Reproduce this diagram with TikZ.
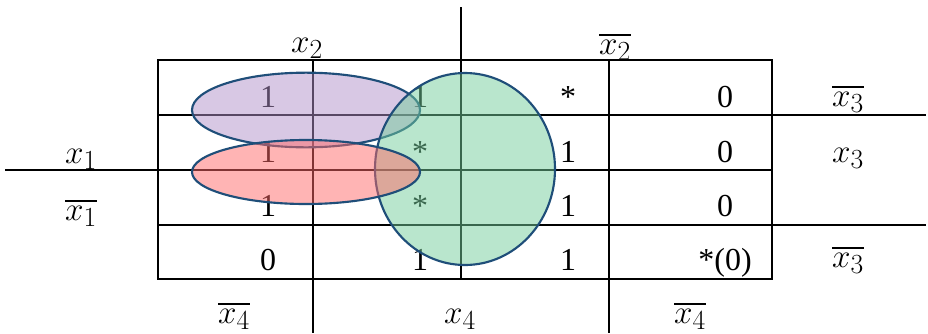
\documentclass[tikz,border=0pt]{standalone}
\usepackage{fontspec}
\setmainfont{Liberation Serif}
\usepackage{amsmath}
\usetikzlibrary{shapes.geometric}
\definecolor{rim}{RGB}{31,78,121}
\definecolor{lilac}{RGB}{177,145,201}
\definecolor{rose}{RGB}{255,105,105}
\definecolor{mint}{RGB}{115,205,155}
\begin{document}
\begin{tikzpicture}[x=0.75pt, y=-0.75pt, line width=1.5pt,
  big/.style={font=\fontsize{24}{29}\selectfont, inner sep=0pt},
  val/.style={big, anchor=base},
  lab/.style={font=\fontsize{28}{33}\selectfont, inner sep=0pt, anchor=base},
  blob/.style={ellipse, draw=rim, line width=1.6pt, fill opacity=0.5, inner sep=0pt}]
\useasboundingbox (0,0) rectangle (928,333);
% grid
\draw (158,60) rectangle (772,279);
\draw (5,170) -- (772,170);
\foreach \y in {115,225} \draw (158,\y) -- (926,\y);
\draw (461,7) -- (461,279);
\foreach \x in {313,609} \draw (\x,60) -- (\x,333);
% variable labels
\node[lab] (lx2) at (307,52) {$x_2$};
\node[lab] (lnx2) at (615,54) {$\overline{x_2}$};
\node[lab] (lnx3a) at (848,106) {$\overline{x_3}$};
\node[lab] (lx3) at (848,162) {$x_3$};
\node[lab] (lnx3b) at (848,267) {$\overline{x_3}$};
\node[lab] (lx1) at (81,163) {$x_1$};
\node[lab] (lnx1) at (81,220) {$\overline{x_1}$};
\node[lab] (lnx4a) at (234,323) {$\overline{x_4}$};
\node[lab] (lx4) at (460,323) {$x_4$};
\node[lab] (lnx4b) at (690,323) {$\overline{x_4}$};
% cell values
\foreach \y/\row [count=\i] in {107/{1,1,*,0}, 162/{1,*,1,0}, 216/{1,*,1,0}, 270/{0,1,1,*(0)}}
  \foreach \v [count=\j] in \row {
    \pgfmathsetmacro{\cx}{{268,420,568,725}[\j-1]}
    \node[val] (c\i\j) at (\cx,\y) {\v};
  }
% groups
\node[blob, fill=lilac, minimum width=171pt, minimum height=56pt] (gA) at (306,110) {};
\node[blob, fill=mint, minimum width=135pt, minimum height=144pt] (gC) at (465,169) {};
\node[blob, fill=rose, minimum width=171pt, minimum height=48pt] (gB) at (306,172) {};
\end{tikzpicture}
\end{document}
